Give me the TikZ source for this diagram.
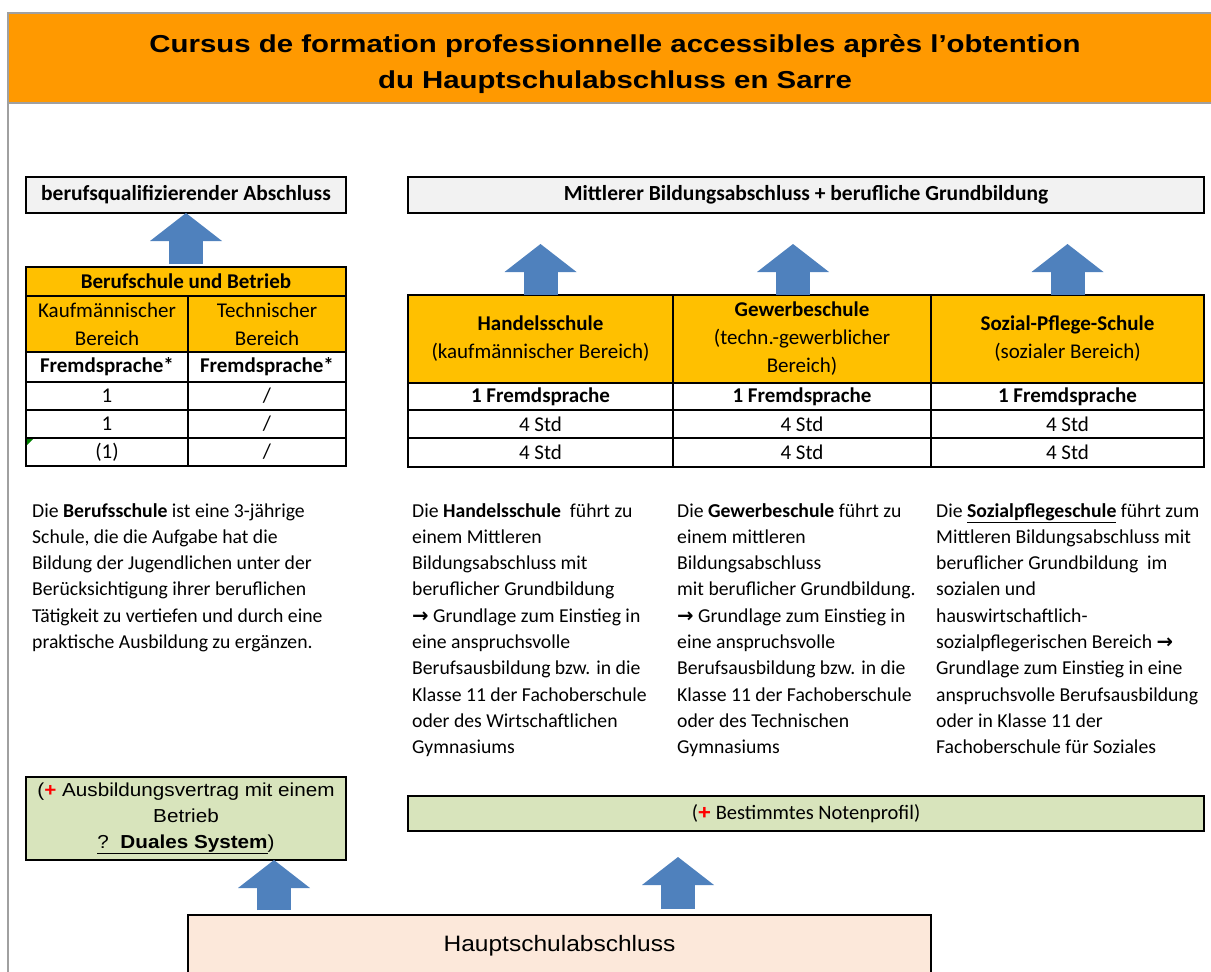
\documentclass[tikz,border=0pt]{standalone}
\usepackage{fontspec}
\setmainfont{Carlito}
\newfontfamily\titelfont[FakeStretch=1.2]{Liberation Sans}
\newfontfamily\arial[FakeStretch=1.1]{Liberation Sans}
\newfontfamily\dejavu{DejaVu Sans}
\usetikzlibrary{arrows.meta}
\definecolor{banner}{RGB}{255,153,0}
\definecolor{kopf}{RGB}{255,192,0}
\definecolor{hellgrau}{RGB}{242,242,242}
\definecolor{gruen}{RGB}{216,228,188}
\definecolor{pfirsich}{RGB}{252,232,218}
\definecolor{pfeilblau}{RGB}{79,129,189}
\definecolor{rahmengrau}{RGB}{160,160,160}
\definecolor{notizgruen}{RGB}{0,128,0}
\newcommand*{\plus}{\textcolor{red}{\arial\bfseries +}}
\newcommand*{\pfeil}{{\dejavu\bfseries →}}

\begin{document}
\begin{tikzpicture}[x=1pt,y=-1pt,
    box/.style={draw,line width=1.8pt,inner sep=0pt,outer sep=0pt},
    cell/.style={box,anchor=north west,align=center,font={\fontsize{21}{28}\selectfont}},
    fett/.style={font={\bfseries\fontsize{21}{28}\selectfont}},
    textblock/.style={anchor=base west,inner sep=0pt,align=left,font={\fontsize{19.7}{26.3}\selectfont}},
    uparrow/.style={draw=pfeilblau,line width=34pt,-{Triangle[width=72pt,length=28pt,line width=0pt]}}]
  \useasboundingbox (0,0) rectangle (1211,972);

  % title bar and frame
  \fill[banner] (9,14) rectangle (1211,103);
  \draw[rahmengrau,line width=2pt] (8,972) -- (8,13) -- (1211,13);
  \draw[rahmengrau,line width=2pt] (8,103) -- (1211,103);
  % base anchor sits on the last line
  \node[anchor=base,align=center,font={\titelfont\bfseries\fontsize{24.5}{36}\selectfont}] (title) at (615,88)
    {Cursus de formation professionnelle accessibles après l’obtention\\du Hauptschulabschluss en Sarre};

  % degrees at the top
  \node[box,fill=hellgrau,minimum width=320pt,minimum height=36pt,font={\bfseries\fontsize{21.5}{24}\selectfont}] (qual) at (186,195) {berufsqualifizierender Abschluss};
  \node[box,fill=hellgrau,minimum width=796pt,minimum height=36pt,font={\bfseries\fontsize{21.5}{24}\selectfont}] (mittel) at (806,195) {Mittlerer Bildungsabschluss + berufliche Grundbildung};

  % Berufschule table
  \node[cell,fill=kopf,fett,minimum width=320pt,minimum height=29pt] (lhead) at (26,267) {Berufschule und Betrieb};
  \node[cell,fill=kopf,minimum width=162pt,minimum height=56pt] (lkauf) at (26,296) {Kaufmännischer\\Bereich};
  \node[cell,fill=kopf,minimum width=158pt,minimum height=56pt] (ltech) at (188,296) {Technischer\\Bereich};
  \node[cell,fett,minimum width=162pt,minimum height=30pt] (lfs1) at (26,352) {Fremdsprache*};
  \node[cell,fett,minimum width=158pt,minimum height=30pt] (lfs2) at (188,352) {Fremdsprache*};
  \foreach \y/\a [count=\i] in {382/1,410/1,438/{(1)}} {
    \node[cell,minimum width=162pt,minimum height=28pt] (lrow\i a) at (26,\y) {\a};
    \node[cell,minimum width=158pt,minimum height=28pt] (lrow\i b) at (188,\y) {/};
  }
  \fill[notizgruen] (27,439) -- (33,439) -- (27,445) -- cycle;

  % school table
  \node[cell,fill=kopf,minimum width=265pt,minimum height=88pt] (handel) at (408,295) {\textbf{Handelsschule}\\(kaufmännischer Bereich)};
  \node[cell,fill=kopf,minimum width=258pt,minimum height=88pt] (gewerbe) at (673,295) {\textbf{Gewerbeschule}\\(techn.-gewerblicher\\Bereich)};
  \node[cell,fill=kopf,minimum width=273pt,minimum height=88pt] (sozial) at (931,295) {\textbf{Sozial-Pflege-Schule}\\(sozialer Bereich)};
  \foreach \x/\w/\n in {408/265/h,673/258/g,931/273/s} {
    \node[cell,fett,minimum width=\w pt,minimum height=27pt] (\n fs) at (\x,383) {1 Fremdsprache};
    \node[cell,minimum width=\w pt,minimum height=28pt] (\n std1) at (\x,410) {4 Std};
    \node[cell,minimum width=\w pt,minimum height=29pt] (\n std2) at (\x,438) {4 Std};
  }

  % descriptions (placed at the baseline of their last line)
  \node[textblock] (txtberuf) at (32,648.5) {Die \textbf{Berufsschule} ist eine 3-jährige\\Schule, die die Aufgabe hat die\\Bildung der Jugendlichen unter der\\Berücksichtigung ihrer beruflichen\\Tätigkeit zu vertiefen und durch eine\\praktische Ausbildung zu ergänzen.};
  \node[textblock] (txthandel) at (412,753.7) {Die \textbf{Handelsschule}\ \ führt zu\\einem Mittleren\\Bildungsabschluss mit\\beruflicher Grundbildung\\\pfeil{} Grundlage zum Einstieg in\\eine anspruchsvolle\\Berufsausbildung bzw. in die\\Klasse 11 der Fachoberschule\\oder des Wirtschaftlichen\\Gymnasiums};
  \node[textblock] (txtgewerbe) at (677,753.7) {Die \textbf{Gewerbeschule} führt zu\\einem mittleren\\Bildungsabschluss\\mit beruflicher Grundbildung.\\\pfeil{} Grundlage zum Einstieg in\\eine anspruchsvolle\\Berufsausbildung bzw. in die\\Klasse 11 der Fachoberschule\\oder des Technischen\\Gymnasiums};
  \node[textblock] (txtsozial) at (936,753.7) {Die \underline{\textbf{Sozialpflegeschule}} führt zum\\Mittleren Bildungsabschluss mit\\beruflicher Grundbildung\ \ im\\sozialen und\\hauswirtschaftlich-\\sozialpflegerischen Bereich \pfeil\\Grundlage zum Einstieg in eine\\anspruchsvolle Berufsausbildung\\oder in Klasse 11 der\\Fachoberschule für Soziales};

  % conditions and start
  \node[box,fill=gruen,minimum width=320pt,minimum height=83pt,align=center,font={\arial\fontsize{18.8}{26}\selectfont}] (dual) at (186,818.5)
    {(\plus{} Ausbildungsvertrag mit einem\\Betrieb\\\underline{?\ \ \textbf{Duales System}})};
  \node[box,fill=gruen,minimum width=796pt,minimum height=35pt,font={\fontsize{20.5}{24}\selectfont}] (noten) at (806,813.5) {(\plus{} Bestimmtes Notenprofil)};
  \node[box,fill=pfirsich,minimum width=743pt,minimum height=62pt,font={\arial\fontsize{22.3}{26}\selectfont}] (haupt) at (559.5,946) {Hauptschulabschluss};

  % arrows
  \draw[uparrow,shorten <=3pt] (lhead.north) -- (qual.south);
  \draw[uparrow,shorten >=31pt] (handel.north) -- (handel.north |- mittel.south);
  \draw[uparrow,shorten >=31pt] ([xshift=-9pt]gewerbe.north) -- ([xshift=-9pt]gewerbe.north |- mittel.south);
  \draw[uparrow,shorten >=31pt] (sozial.north) -- (sozial.north |- mittel.south);
  \draw[uparrow,shorten <=5pt] ([xshift=86pt]haupt.north west) -- ([xshift=86pt]haupt.north west |- dual.south);
  \draw[uparrow,shorten <=6pt,shorten >=26pt] ([xshift=490pt]haupt.north west) -- ([xshift=490pt]haupt.north west |- noten.south);
\end{tikzpicture}
\end{document}
